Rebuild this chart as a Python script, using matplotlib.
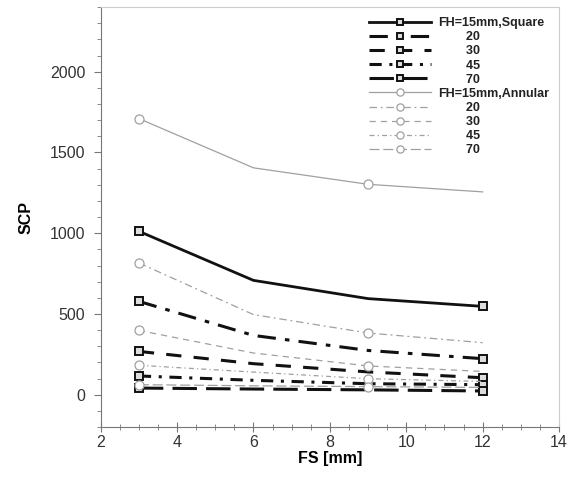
import matplotlib
matplotlib.use("Agg")
import matplotlib.pyplot as plt
from matplotlib.ticker import MultipleLocator

plt.rcParams["font.family"] = ["Liberation Sans", "DejaVu Sans"]

fs = [3, 6, 9, 12]
heights = ["15", "20", "30", "45", "70"]

# SCP, square fins
square = {
    "15": [1012, 708, 595, 547],
    "20": [578, 367, 274, 223],
    "30": [268, 192, 141, 105],
    "45": [116, 89, 68, 62],
    "70": [41, 35, 30, 23],
}
# SCP, annular fins
annular = {
    "15": [1710, 1405, 1303, 1256],
    "20": [816, 496, 382, 322],
    "30": [398, 258, 178, 144],
    "45": [182, 140, 99, 82],
    "70": [62, 55, 50, 45],
}

styles = {
    "15": "-",
    "20": (0, (6, 3, 1.5, 3)),
    "30": (0, (5, 4)),
    "45": (0, (4, 2.5, 1, 2.5)),
    "70": (0, (8, 3)),
}

fig = plt.figure(figsize=(5.74, 4.79), dpi=100)
ax = fig.add_axes([0.1754, 0.1086, 0.7986, 0.8764])

for h in heights:
    lab = "FH=15mm,Square" if h == "15" else "        " + h
    ax.plot(fs, square[h], color="#111111", lw=2.0 if h == "15" else 2.2,
            ls=styles[h], marker="s", markevery=[0, 3], ms=6,
            mfc="#dddddd", mec="#111111", mew=1.4, label=lab)
for h in heights:
    lab = "FH=15mm,Annular" if h == "15" else "        " + h
    ax.plot(fs, annular[h], color="#a0a0a0", lw=0.9,
            ls=styles[h], marker="o", markevery=[0, 2], ms=6.5,
            mfc="white", mec="#a0a0a0", mew=0.9, label=lab)

ax.set_xlim(2, 14)
ax.set_ylim(-200, 2400)
ax.xaxis.set_major_locator(MultipleLocator(2))
ax.xaxis.set_minor_locator(MultipleLocator(0.5))
ax.yaxis.set_major_locator(MultipleLocator(500))
ax.yaxis.set_minor_locator(MultipleLocator(100))
ax.tick_params(which="both", colors="#777777", labelcolor="#333333",
               labelsize=11.5)
ax.tick_params(axis="y", which="major", direction="out", length=5, pad=6)
ax.tick_params(axis="y", which="minor", direction="out", length=3)
ax.tick_params(axis="x", which="major", direction="inout", length=7, pad=2)
ax.tick_params(axis="x", which="minor", direction="inout", length=5)
for s in ["left", "bottom"]:
    ax.spines[s].set_color("#777777")
for s in ["top", "right"]:
    ax.spines[s].set_color("#cccccc")

ax.set_xlabel("FS [mm]", fontsize=11.5, fontweight="bold", labelpad=1)
ax.set_ylabel("SCP", fontsize=11.5, fontweight="bold", labelpad=12)

leg = ax.legend(loc="upper right", frameon=False, handlelength=4.9,
                labelspacing=0.17, borderaxespad=0.4, handletextpad=0.6,
                markerscale=0.8, prop={"size": 9, "weight": "bold"})
for t in leg.get_texts():
    t.set_color("#222222")

fig.savefig("out.png", dpi=100)
